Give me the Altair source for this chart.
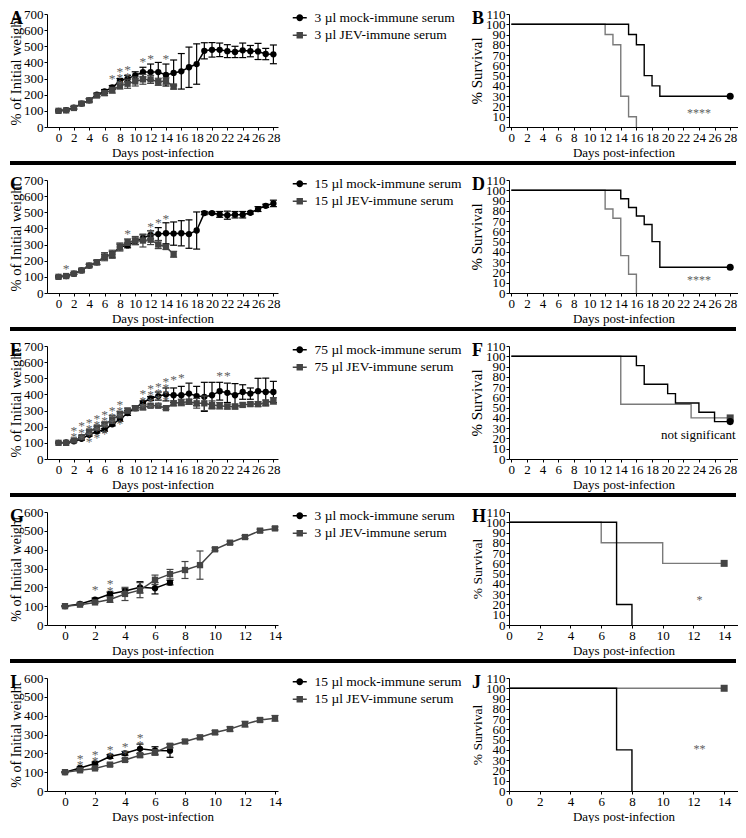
import altair as alt
import pandas as pd

FONT = "Liberation Serif"
MOCK_C = "black"
JEV_C = "#444444"
JEV_S = "#7a7a7a"
STAR_C = "#606060"

W = 231
WS = 229
H = 113

# ---------------- Panel A (weights, 3 ul) ----------------
A_mock_days = list(range(29))
A_mock = [100, 105, 120, 145, 165, 200, 220, 245, 285, 300, 320, 340, 340, 340, 322,
          335, 345, 370, 390, 472, 478, 478, 470, 465, 475, 470, 468, 452, 450]
A_mock_err = [5, 5, 8, 10, 10, 10, 12, 12, 15, 20, 22, 30, 50, 60, 68,
              80, 110, 125, 125, 50, 45, 42, 40, 35, 45, 35, 50, 35, 58]
A_jev_days = list(range(16))
A_jev = [100, 103, 118, 145, 165, 195, 210, 228, 255, 268, 282, 295, 295, 280, 285, 250]
A_jev_err = [5, 5, 8, 8, 10, 10, 15, 18, 20, 28, 28, 30, 25, 22, 20, 15]
A_star_days = [7, 8, 9, 11, 12, 14]
A_star_y = [311, 356, 364, 417, 433, 433]
A_star_n = [1, 3, 2, 1, 1, 1]
A_labels = ["3 µl mock-immune serum", "3 µl JEV-immune serum"]

# ---------------- Panel C (weights, 15 ul) ----------------
C_mock_days = list(range(29))
C_mock = [100, 105, 120, 140, 170, 190, 225, 240, 285, 295, 320, 340, 360, 365, 370,
          368, 370, 365, 387, 495, 495, 487, 482, 485, 485, 497, 520, 540, 555]
C_mock_err = [5, 5, 5, 8, 8, 12, 15, 18, 18, 15, 20, 20, 25, 40, 65,
              72, 78, 88, 115, 10, 8, 18, 25, 20, 20, 8, 15, 10, 20]
C_jev_days = list(range(16))
C_jev = [100, 105, 120, 140, 170, 190, 225, 240, 285, 315, 325, 325, 330, 300, 285, 240]
C_jev_err = [5, 5, 5, 8, 8, 15, 25, 25, 25, 20, 25, 40, 30, 25, 15, 18]
C_star_days = [1, 9, 12, 13, 14]
C_star_y = [162, 376, 421, 449, 472]
C_star_n = [1, 1, 2, 1, 1]
C_labels = ["15 µl mock-immune serum", "15 µl JEV-immune serum"]

# ---------------- Panel E (weights, 75 ul) ----------------
E_mock_days = list(range(29))
E_mock = [100, 102, 110, 125, 150, 170, 180, 215, 245, 285, 315, 350, 375, 390, 400,
          395, 395, 405, 390, 385, 395, 420, 410, 395, 415, 405, 420, 415, 415]
E_mock_err = [3, 3, 5, 8, 8, 8, 8, 10, 12, 15, 15, 10, 12, 25, 40,
              45, 55, 65, 60, 90, 80, 55, 60, 72, 45, 35, 80, 86, 66]
E_jev_days = list(range(29))
E_jev = [100, 100, 115, 135, 170, 195, 215, 245, 275, 300, 315, 320, 330, 330, 315,
         345, 350, 355, 345, 345, 335, 330, 325, 325, 335, 340, 340, 350, 360]
E_jev_err = [3, 3, 5, 8, 8, 8, 10, 25, 20, 15, 12, 15, 10, 10, 8,
             15, 20, 15, 30, 45, 25, 20, 15, 15, 12, 12, 15, 15, 20]
E_star_days = [2, 3, 4, 5, 6, 7, 8, 11, 12, 13, 14, 15, 16, 21, 22]
E_star_y = [188, 215, 235, 262, 287, 311, 348, 413, 446, 460, 491, 499, 516, 528, 528]
E_star_n = [2, 3, 4, 4, 4, 3, 4, 3, 4, 4, 4, 1, 1, 1, 1]
E_labels = ["75 µl mock-immune serum", "75 µl JEV-immune serum"]

# ---------------- Panel G (weights, 3 ul, 14 d) ----------------
G_mock_days = list(range(8))
G_mock = [100, 112, 135, 165, 180, 200, 195, 225]
G_mock_err = [3, 5, 8, 10, 12, 30, 30, 12]
G_jev_days = list(range(15))
G_jev = [100, 108, 120, 135, 165, 185, 240, 270, 292, 318, 402, 437, 467, 501, 513]
G_jev_err = [3, 4, 5, 15, 35, 40, 25, 25, 45, 75, 8, 8, 8, 8, 8]
G_star_days = [2, 3]
G_star_y = [194, 226]
G_star_n = [1, 2]
G_labels = ["3 µl mock-immune serum", "3 µl JEV-immune serum"]

# ---------------- Panel I (weights, 15 ul, 14 d) ----------------
I_mock_days = list(range(8))
I_mock = [100, 122, 146, 183, 200, 224, 215, 214]
I_mock_err = [3, 5, 8, 10, 10, 25, 20, 35]
I_jev_days = list(range(15))
I_jev = [100, 110, 120, 140, 165, 190, 205, 240, 263, 285, 311, 329, 355, 377, 386]
I_jev_err = [3, 5, 5, 8, 8, 10, 15, 10, 10, 10, 10, 12, 15, 10, 15]
I_star_days = [1, 2, 3, 4, 5]
I_star_y = [183, 203, 230, 242, 290]
I_star_n = [2, 2, 2, 2, 2]
I_labels = ["15 µl mock-immune serum", "15 µl JEV-immune serum"]

# ---------------- Survival panels ----------------
B_mock_days = [0, 15, 16, 17, 18, 19, 28]
B_mock = [100, 90, 80, 50, 40, 30, 30]
B_jev_days = [0, 12, 13, 14, 15, 16]
B_jev = [100, 90, 80, 30, 10, 0]

D_mock_days = [0, 14, 15, 16, 17, 18, 19, 28]
D_mock = [100, 91.7, 83.3, 75, 66.7, 50, 25, 25]
D_jev_days = [0, 12, 13, 14, 15, 16]
D_jev = [100, 81.8, 72.7, 36.4, 18.2, 0]

F_mock_days = [0, 16, 17, 20, 21, 24, 26, 28]
F_mock = [100, 90.9, 72.7, 63.6, 54.5, 45.5, 36.4, 36.4]
F_jev_days = [0, 14, 23, 28]
F_jev = [100, 53.3, 40, 40]

H_mock_days = [0, 7, 8]
H_mock = [100, 20, 0]
H_jev_days = [0, 6, 10, 14]
H_jev = [100, 80, 60, 60]

J_mock_days = [0, 7, 8]
J_mock = [100, 40, 0]
J_jev_days = [0, 14]
J_jev = [100, 100]

CIRC_PATH = ("M -1.75 -0.2 H 1.75 V 0.2 H -1.75 Z "
             "M -0.85 0 A 0.85 0.85 0 1 1 0.85 0 A 0.85 0.85 0 1 1 -0.85 0 Z")
SQ_PATH = ("M -1.75 -0.2 H 1.75 V 0.2 H -1.75 Z "
           "M -0.8 -0.8 H 0.8 V 0.8 H -0.8 Z")


def series_df(days, vals, errs):
    return pd.DataFrame({
        "day": days,
        "val": vals,
        "lo": [v - e for v, e in zip(vals, errs)],
        "hi": [v + e for v, e in zip(vals, errs)],
    })


def letter_layer(letter):
    return alt.Chart(pd.DataFrame({"k": [0]})).mark_text(
        text=letter, font=FONT, fontSize=18, fontWeight="bold", color="black",
        align="left", baseline="alphabetic").encode(x=alt.value(-37), y=alt.value(10))


def weight_panel(letter, md, mv, me, jd, jv, je, sd, sy, sn, labels,
                 xdom, xticks, ymax, ytsize, sep):
    dfm = series_df(md, mv, me)
    dfj = series_df(jd, jv, je)
    dfs = pd.DataFrame({"day": sd, "y": sy, "s": ["\n".join(["*"] * n) for n in sn]})
    xax = alt.Axis(values=xticks, title="Days post-infection", labelOverlap=False,
                   labelFlush=False, grid=False)
    yax = alt.Axis(values=list(range(0, ymax + 1, 100)), title="% of Initial weight",
                   labelOverlap=False, labelFlush=False, grid=False, titleFontSize=ytsize,
                   titlePadding=0)
    X = alt.X("day:Q", scale=alt.Scale(domain=xdom, nice=False, zero=False), axis=xax)

    def Y(f):
        return alt.Y(f + ":Q", scale=alt.Scale(domain=[0, ymax], nice=False), axis=yax)

    layers = []
    for df, col, shp in [(dfm, MOCK_C, "circle"), (dfj, JEV_C, "square")]:
        base = alt.Chart(df)
        layers.append(base.mark_rule(color=col, strokeWidth=1.2).encode(x=X, y=Y("lo"), y2=alt.Y2("hi")))
        layers.append(base.mark_tick(color=col, orient="horizontal", size=7, thickness=1.2,
                                     opacity=1).encode(x=X, y=Y("hi")))
        layers.append(base.mark_tick(color=col, orient="horizontal", size=7, thickness=1.2,
                                     opacity=1).encode(x=X, y=Y("lo")))
        layers.append(base.mark_line(color=col, strokeWidth=1.5).encode(x=X, y=Y("val")))
        layers.append(base.mark_point(filled=True, shape=shp, size=40, color=col,
                                      opacity=1).encode(x=X, y=Y("val")))
    layers.append(alt.Chart(dfs).mark_text(font=FONT, fontSize=13.5, color=STAR_C, lineBreak="\n",
                                           lineHeight=6.3, baseline="bottom", dy=9).encode(
        x=X, y=Y("y"), text="s:N"))

    leg = alt.Legend(title=None, orient="none", legendX=246, legendY=-3)
    leg_df = pd.DataFrame({"grp": labels, "day": [0, 0], "val": [0, 0]})
    layers.append(alt.Chart(leg_df).transform_filter("false").mark_point(
        filled=True, opacity=1).encode(
        x=X, y=Y("val"),
        color=alt.Color("grp:N", scale=alt.Scale(domain=labels, range=[MOCK_C, JEV_C]), legend=leg),
        shape=alt.Shape("grp:N", scale=alt.Scale(domain=labels, range=[CIRC_PATH, SQ_PATH]), legend=leg),
    ))
    if sep:
        layers.append(alt.Chart(pd.DataFrame({"k": [0]})).mark_rule(color="black", strokeWidth=4).encode(
            x=alt.value(-37), x2=alt.value(689), y=alt.value(H + 36)))
    layers.append(letter_layer(letter))
    return alt.layer(*layers).properties(width=W, height=H)


def surv_panel(letter, md, mv, jd, jv, mock_end, jev_end, sig, sig_x, sig_y, sig_align,
               sig_size, sig_color, xdom, xticks, ytsize):
    dfm = pd.DataFrame({"day": md, "surv": mv})
    dfj = pd.DataFrame({"day": jd, "surv": jv})
    X = alt.X("day:Q", scale=alt.Scale(domain=xdom, nice=False, zero=False),
              axis=alt.Axis(values=xticks, title="Days post-infection", labelOverlap=False,
                            labelFlush=False, grid=False))
    Y = alt.Y("surv:Q", scale=alt.Scale(domain=[0, 110], nice=False),
              axis=alt.Axis(values=list(range(0, 111, 10)), title="% Survival", labelOverlap=False,
                            labelFlush=False, grid=False, titleFontSize=ytsize, titlePadding=1))
    layers = [
        alt.Chart(dfj).mark_line(interpolate="step-after", color=JEV_S, strokeWidth=1.4).encode(x=X, y=Y),
        alt.Chart(dfm).mark_line(interpolate="step-after", color="black", strokeWidth=1.4).encode(x=X, y=Y),
    ]
    if jev_end:
        layers.append(alt.Chart(dfj.tail(1)).mark_point(filled=True, shape="square", size=49,
                                                        color=JEV_C, opacity=1).encode(x=X, y=Y))
    if mock_end:
        layers.append(alt.Chart(dfm.tail(1)).mark_point(filled=True, shape="circle", size=50,
                                                        color="black", opacity=1).encode(x=X, y=Y))
    sdf = pd.DataFrame({"day": [sig_x], "surv": [sig_y], "t": [sig]})
    layers.append(alt.Chart(sdf).mark_text(font=FONT, fontSize=sig_size, color=sig_color,
                                           align=sig_align, baseline="middle").encode(x=X, y=Y, text="t:N"))
    layers.append(letter_layer(letter))
    return alt.layer(*layers).properties(width=WS, height=H)


x28 = list(range(0, 29, 2))
x14 = list(range(0, 15, 2))

pA = weight_panel("A", A_mock_days, A_mock, A_mock_err, A_jev_days, A_jev, A_jev_err,
                  A_star_days, A_star_y, A_star_n, A_labels, [-1.5, 28.6], x28, 700, 14.5, True)
pB = surv_panel("B", B_mock_days, B_mock, B_jev_days, B_jev, True, False, "****", 24, 14,
                "center", 12, STAR_C, [-0.3, 29], x28, 15)
pC = weight_panel("C", C_mock_days, C_mock, C_mock_err, C_jev_days, C_jev, C_jev_err,
                  C_star_days, C_star_y, C_star_n, C_labels, [-1.5, 28.6], x28, 700, 14.5, True)
pD = surv_panel("D", D_mock_days, D_mock, D_jev_days, D_jev, True, False, "****", 24, 13,
                "center", 12, STAR_C, [-0.3, 29], x28, 15)
pE = weight_panel("E", E_mock_days, E_mock, E_mock_err, E_jev_days, E_jev, E_jev_err,
                  E_star_days, E_star_y, E_star_n, E_labels, [-1.5, 28.6], x28, 700, 14.5, True)
pF = surv_panel("F", F_mock_days, F_mock, F_jev_days, F_jev, True, True, "not significant", 28.7, 23,
                "right", 13, "black", [-0.3, 29], x28, 15)
pG = weight_panel("G", G_mock_days, G_mock, G_mock_err, G_jev_days, G_jev, G_jev_err,
                  G_star_days, G_star_y, G_star_n, G_labels, [-1.2, 14.2], x14, 600, 14, True)
pH = surv_panel("H", H_mock_days, H_mock, H_jev_days, H_jev, False, True, "*", 12.4, 24,
                "center", 12, STAR_C, [0, 14.9], x14, 13.5)
pI = weight_panel("I", I_mock_days, I_mock, I_mock_err, I_jev_days, I_jev, I_jev_err,
                  I_star_days, I_star_y, I_star_n, I_labels, [-1.2, 14.2], x14, 600, 14, False)
pJ = surv_panel("J", J_mock_days, J_mock, J_jev_days, J_jev, False, True, "**", 12.4, 41,
                "center", 12, STAR_C, [0, 14.9], x14, 13.5)

chart = alt.concat(pA, pB, pC, pD, pE, pF, pG, pH, pI, pJ, columns=2,
                   spacing={"row": 53, "column": 231}, bounds="flush")
chart = chart.resolve_scale(color="independent", shape="independent").resolve_legend(
    color="independent", shape="independent")
chart = chart.properties(padding=0).configure_view(stroke=None).configure_axis(
    domainColor="black", domainWidth=1, tickColor="black", tickWidth=1, tickSize=3,
    labelFont=FONT, labelFontSize=13, labelColor="black", labelPadding=1,
    titleFont=FONT, titleFontSize=13, titleFontWeight="normal", titleColor="black",
    titlePadding=2, grid=False,
).configure_legend(
    labelFont=FONT, labelFontSize=13.5, labelColor="black", symbolSize=64,
    symbolStrokeWidth=0, rowPadding=2.5, labelOffset=8, padding=0, labelLimit=0,
)

chart.save("out.html", embed_options={"renderer": "svg", "actions": False})
